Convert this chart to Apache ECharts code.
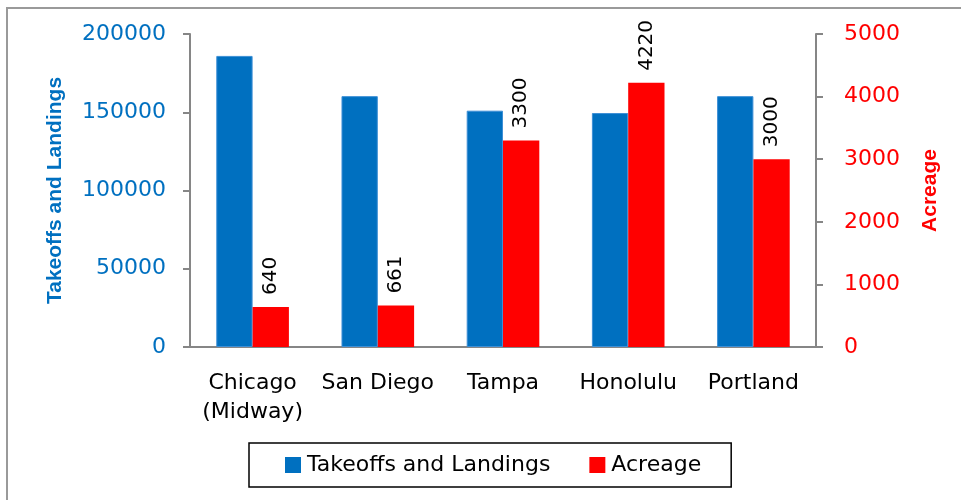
<!DOCTYPE html>
<html>
<head>
<meta charset="utf-8">
<script src="https://cdn.jsdelivr.net/npm/echarts@6/dist/echarts.min.js"></script>
<style>
  html, body { margin: 0; padding: 0; background: #fff; }
  #main { width: 961px; height: 500px; }
</style>
</head>
<body>
<div id="main"></div>
<script>
// airports and their values
var airports = ['Chicago\n(Midway)', 'San Diego', 'Tampa', 'Honolulu', 'Portland'];
var takeoffs = [186000, 160300, 151000, 149500, 160300];
var acreage = [640, 661, 3300, 4220, 3000];
var leftTicks = [0, 200000, 50000];   // min, max, step
var rightTicks = [0, 5000, 1000];

var blue = '#0070C0', red = '#FF0000', axisGray = '#868686';
var font = 'DejaVu Sans';
var plain = function (v) { return String(v); };

var chart = echarts.init(document.getElementById('main'));
var option = {
    animation: false,
    backgroundColor: '#fff',
    // chart frame, only the left and top edges show in the crop
    graphic: [{
        type: 'polyline',
        shape: { points: [[7, 500], [7, 8], [961, 8]] },
        style: { fill: 'none', stroke: '#9a9a9a', lineWidth: 2 },
        silent: true
    }],
    grid: { left: 190, right: 145, top: 34, bottom: 153 },
    legend: {
        data: ['Takeoffs and Landings', 'Acreage'],
        left: 249, top: 443,
        padding: [11, 30, 11, 36],
        itemWidth: 16, itemHeight: 16, itemGap: 39,
        icon: 'rect',
        itemStyle: { borderWidth: 0 },
        borderColor: '#000', borderWidth: 1.5,
        textStyle: { fontFamily: font, fontSize: 22, color: '#000', padding: [0, 0, 0, 1] }
    },
    xAxis: {
        type: 'category',
        data: airports,
        axisLine: { lineStyle: { color: axisGray, width: 2 } },
        axisTick: { length: 7, lineStyle: { color: axisGray, width: 2 } },
        axisLabel: { interval: 0, margin: 22, fontFamily: font, fontSize: 22, lineHeight: 29, color: '#000' }
    },
    yAxis: [{
        type: 'value',
        min: leftTicks[0], max: leftTicks[1], interval: leftTicks[2],
        name: 'Takeoffs and Landings',
        nameLocation: 'middle', nameGap: 124, nameRotate: 90,
        nameTextStyle: { fontFamily: 'Liberation Sans', fontWeight: 'bold', fontSize: 21, color: blue },
        axisLine: { show: true, lineStyle: { color: axisGray, width: 2 } },
        axisTick: { show: true, length: 7, lineStyle: { color: axisGray, width: 2 } },
        axisLabel: { margin: 24, fontFamily: font, fontSize: 22, color: blue, formatter: plain },
        splitLine: { show: false }
    }, {
        type: 'value',
        min: rightTicks[0], max: rightTicks[1], interval: rightTicks[2],
        name: 'Acreage',
        nameLocation: 'middle', nameGap: 104, nameRotate: 90,
        nameTextStyle: { fontFamily: 'Liberation Sans', fontWeight: 'bold', fontSize: 21, color: red },
        axisLine: { show: true, lineStyle: { color: axisGray, width: 2 } },
        axisTick: { show: true, length: 7, lineStyle: { color: axisGray, width: 2 } },
        axisLabel: { margin: 28, fontFamily: font, fontSize: 22, color: red, formatter: plain },
        splitLine: { show: false }
    }],
    series: [{
        name: 'Takeoffs and Landings',
        type: 'bar',
        yAxisIndex: 0,
        data: takeoffs,
        barGap: '0%',
        barCategoryGap: '42%',
        itemStyle: { color: blue, borderColor: '#3d8fd6', borderWidth: 1 }
    }, {
        name: 'Acreage',
        type: 'bar',
        yAxisIndex: 1,
        data: acreage,
        itemStyle: { color: red },
        label: {
            show: true, position: 'top', rotate: 90, distance: 12,
            align: 'left', verticalAlign: 'middle',
            fontFamily: font, fontSize: 20, color: '#000'
        }
    }]
};
chart.setOption(option);
</script>
</body>
</html>
